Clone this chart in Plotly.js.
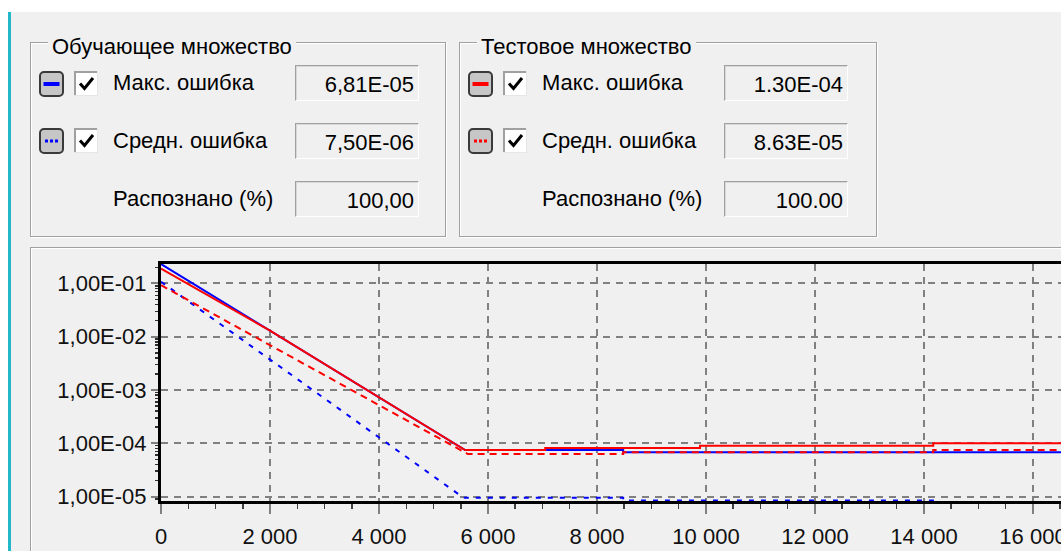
<!DOCTYPE html>
<html>
<head>
<meta charset="utf-8">
<script src="https://cdn.plot.ly/plotly-3.0.1.min.js"></script>
<style>
  html, body { margin: 0; padding: 0; }
  body {
    width: 1061px; height: 551px; overflow: hidden; position: relative;
    background: #f0f0f0;
    font-family: "Liberation Sans", Arial, sans-serif; font-size: 22px; color: #000;
  }
  #topstrip { position: absolute; left: 0; top: 0; width: 1061px; height: 12px; background: #fff; }
  #leftstrip { position: absolute; left: 0; top: 12px; width: 8px; height: 539px; background: #fff; }
  #edge { position: absolute; left: 8px; top: 12px; width: 3px; height: 539px; background: #22b7c9; }
  #chartpanel {
    position: absolute; left: 30px; top: 247px; width: 1100px; height: 400px;
    border-left: 1px solid #a0a0a0; border-top: 1px solid #a0a0a0;
    box-shadow: inset 1px 1px 0 #ffffff;
  }
  #plot { position: absolute; left: 0; top: 0; width: 1061px; height: 551px; }
  .group {
    position: absolute; top: 42px; height: 195px; box-sizing: border-box;
    border: 1px solid #a0a0a0; box-shadow: inset 1px 1px 0 #fff, 1px 1px 0 #fff;
  }
  .gtitle {
    position: absolute; top: 34px; height: 26px; line-height: 26px; padding: 0 4px;
    background: #f0f0f0; white-space: nowrap;
  }
  .lbl { position: absolute; height: 36px; line-height: 36px; white-space: nowrap; }
  .tbox {
    position: absolute; width: 124px; height: 36px; box-sizing: border-box;
    border-top: 1px solid #a0a0a0; border-left: 1px solid #a0a0a0;
    border-bottom: 1px solid #ffffff; border-right: 1px solid #ffffff;
    box-shadow: inset 1px 1px 0 #d8d8d8;
    text-align: right; padding-right: 4px; padding-top: 3px; line-height: 32px; white-space: nowrap;
  }
  .icon, .check { position: absolute; }
</style>
</head>
<body>
<div id="topstrip"></div>
<div id="leftstrip"></div>
<div id="edge"></div>
<div id="chartpanel"></div>
<div id="plot"></div>
<div id="ui"></div>

<script>
// Training set: maximum error per epoch
const trainMaxEpochs = [0, 2000, 5580, 8480, 8480, 16800];
const trainMax       = [0.232, 1.3e-2, 7.46e-5, 7.46e-5, 6.81e-5, 6.81e-5];

// Training set: mean error per epoch
const trainMeanEpochs = [0, 5550, 8480, 8480, 14200, 14200, 16800];
const trainMean       = [0.108, 9.5e-6, 9.5e-6, 8.4e-6, 8.4e-6, 7.5e-6, 7.5e-6];

// Test set: maximum error per epoch
const testMaxEpochs = [0, 2000, 5580, 7050, 7050, 9890, 9890, 14170, 14170, 16800];
const testMax       = [0.19, 1.3e-2, 7.46e-5, 7.46e-5, 8.15e-5, 8.15e-5, 9.0e-5, 9.0e-5, 1.0e-4, 1.0e-4];

// Test set: mean error per epoch
const testMeanEpochs = [0, 5630, 8480, 8480, 14170, 14170, 16800];
const testMean       = [0.093, 6.28e-5, 6.28e-5, 6.8e-5, 6.8e-5, 7.46e-5, 7.46e-5];

// Axis tick labels
const xTickVals = [0, 2000, 4000, 6000, 8000, 10000, 12000, 14000, 16000];
const xTickText = ['0', '2 000', '4 000', '6 000', '8 000', '10 000', '12 000', '14 000', '16 000'];
const yTickVals = [1e-5, 1e-4, 1e-3, 1e-2, 1e-1];
const yTickText = ['1,00E-05', '1,00E-04', '1,00E-03', '1,00E-02', '1,00E-01'];

// Panel texts
const panelTitles = ['Обучающее множество', 'Тестовое множество'];
const rowLabels = ['Макс. ошибка', 'Средн. ошибка', 'Распознано (%)'];
const trainValues = ['6,81E-05', '7,50E-06', '100,00'];
const testValues = ['1.30E-04', '8.63E-05', '100.00'];

// ---- control panels ----
function iconSvg(color, dotted) {
  let inner = dotted
    ? `<rect x="6" y="11.5" width="3" height="3" fill="${color}"/><rect x="11" y="11.5" width="3" height="3" fill="${color}"/><rect x="16" y="11.5" width="3" height="3" fill="${color}"/>`
    : `<line x1="4.5" y1="13" x2="20.5" y2="13" stroke="${color}" stroke-width="4"/>`;
  return `<svg width="25" height="26" viewBox="0 0 25 26"><rect x="1" y="1" width="23" height="24" rx="4" ry="4" fill="#c6c6c6" stroke="#3a3a3a" stroke-width="2"/>${inner}</svg>`;
}
function checkSvg() {
  return `<svg width="24" height="25" viewBox="0 0 24 25">
    <rect x="0" y="0" width="24" height="25" fill="#ffffff"/>
    <line x1="0" y1="1" x2="24" y2="1" stroke="#a0a0a0" stroke-width="2"/>
    <line x1="1" y1="0" x2="1" y2="25" stroke="#a0a0a0" stroke-width="2"/>
    <line x1="0" y1="24.5" x2="24" y2="24.5" stroke="#e6e6e6" stroke-width="1"/>
    <line x1="23.5" y1="0" x2="23.5" y2="25" stroke="#e6e6e6" stroke-width="1"/>
    <path d="M6 12.5 L10.5 17.5 L19 7" fill="none" stroke="#000" stroke-width="3"/>
  </svg>`;
}

function buildGroup(left, width, title, values, color) {
  const ui = document.getElementById('ui');
  let html = `<div class="group" style="left:${left}px;width:${width}px"></div>`;
  html += `<div class="gtitle" style="left:${left + 18}px">${title}</div>`;
  const rowTops = [65, 123, 181];
  const iconTops = [71, 128];
  for (let i = 0; i < 2; i++) {
    html += `<div class="icon" style="left:${left + 9}px;top:${iconTops[i]}px">${iconSvg(color, i === 1)}</div>`;
    html += `<div class="check" style="left:${left + 44}px;top:${iconTops[i]}px">${checkSvg()}</div>`;
  }
  for (let i = 0; i < 3; i++) {
    html += `<div class="lbl" style="left:${left + 83}px;top:${rowTops[i]}px">${rowLabels[i]}</div>`;
    html += `<div class="tbox" style="left:${left + 265}px;top:${rowTops[i]}px">${values[i]}</div>`;
  }
  ui.insertAdjacentHTML('beforeend', html);
}
buildGroup(30, 416, panelTitles[0], trainValues, '#0000ff');
buildGroup(459, 418, panelTitles[1], testValues, '#ff0000');

// ---- error chart ----
const traces = [
  { x: trainMeanEpochs, y: trainMean, mode: 'lines', line: { color: '#0000ff', width: 2, dash: '5px,7px' } },
  { x: trainMaxEpochs, y: trainMax, mode: 'lines', line: { color: '#0000ff', width: 2 } },
  { x: testMaxEpochs, y: testMax, mode: 'lines', line: { color: '#ff0000', width: 2 } },
  { x: testMeanEpochs, y: testMean, mode: 'lines', line: { color: '#ff0000', width: 2, dash: '7px,5px' } }
];

const gridStyle = { showgrid: true, gridcolor: '#808080', gridwidth: 2, griddash: '7px,6px' };

const layout = {
  width: 1061, height: 551,
  margin: { l: 161, r: 0, t: 264, b: 50, pad: 0 },
  paper_bgcolor: 'rgba(0,0,0,0)', plot_bgcolor: 'rgba(0,0,0,0)',
  showlegend: false,
  font: { family: '"Liberation Sans", Arial, sans-serif', size: 22, color: '#111111' },
  xaxis: Object.assign({
    range: [0, 16514], tickmode: 'array', tickvals: xTickVals, ticktext: xTickText,
    ticks: 'outside', ticklen: 10, tickwidth: 2, tickcolor: '#808080',
    ticklabelstandoff: 4, ticklabeloverflow: 'allow',
    showline: true, linecolor: '#000000', linewidth: 3, mirror: true,
    zeroline: false, layer: 'below traces',
    minor: { ticks: 'outside', ticklen: 5, tickwidth: 1.5, tickcolor: '#404040', dtick: 500, tick0: 0, showgrid: false }
  }, gridStyle),
  yaxis: Object.assign({
    type: 'log', range: [-5.084, -0.634], tickmode: 'array', tickvals: yTickVals, ticktext: yTickText,
    ticks: 'outside', ticklen: 7, tickwidth: 2, tickcolor: '#808080',
    showline: true, linecolor: '#000000', linewidth: 3, mirror: false,
    zeroline: false, layer: 'below traces',
    minor: { ticks: 'outside', ticklen: 3, tickwidth: 1.5, tickcolor: '#303030', dtick: 'D1', showgrid: false }
  }, gridStyle)
};

Plotly.newPlot('plot', traces, layout, { staticPlot: true, displayModeBar: false });
</script>
</body>
</html>
